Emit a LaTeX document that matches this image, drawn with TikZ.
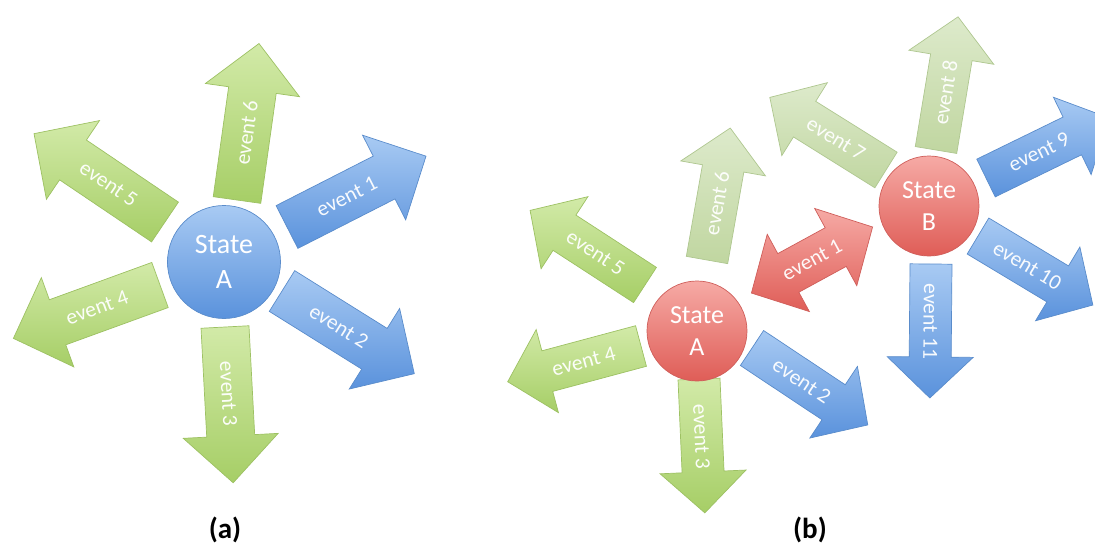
\documentclass[tikz,border=0pt]{standalone}
\usepackage{fontspec}
\setmainfont{Carlito}

% fill colours of the block arrows and state circles
\definecolor{grnL}{HTML}{D2EAA8}
\definecolor{grnD}{HTML}{A6CE66}
\definecolor{grnE}{HTML}{9DC163}
\definecolor{paleL}{HTML}{DDEACB}
\definecolor{paleD}{HTML}{C0D6A0}
\definecolor{paleE}{HTML}{AFC790}
\definecolor{bluL}{HTML}{A8CAF3}
\definecolor{bluD}{HTML}{5A92DC}
\definecolor{bluE}{HTML}{5A8CCB}
\definecolor{redL}{HTML}{F6AAA5}
\definecolor{redD}{HTML}{DF5D57}
\definecolor{redE}{HTML}{CF5E5A}

% block arrow: name, tail x, tail y, direction, length, style, label, label rotation
\newcommand{\evarrow}[8]{%
  \begin{scope}[shift={(#2,#3)}, rotate=#4]
    \path[#6] (0,-\shw/2) -- (#5-\hdlen,-\shw/2) -- (#5-\hdlen,-\hdw/2) -- (#5,0)
      -- (#5-\hdlen,\hdw/2) -- (#5-\hdlen,\shw/2) -- (0,\shw/2) -- cycle;
    \node[evtext, rotate=#8] (#1) at (0.43*#5,0) {#7};
  \end{scope}}

\begin{document}
\begin{tikzpicture}[x=1pt, y=-1pt,
  greenarrow/.style={top color=grnL, bottom color=grnD, draw=grnE, line width=0.7pt},
  palearrow/.style={top color=paleL, bottom color=paleD, draw=paleE, line width=0.7pt},
  bluearrow/.style={top color=bluL, bottom color=bluD, draw=bluE, line width=0.7pt},
  redarrow/.style={top color=redL, bottom color=redD, draw=redE, line width=0.7pt},
  evtext/.style={text=white, text opacity=0.95, inner sep=0pt, font=\fontsize{21.5}{24}\selectfont},
  statenode/.style={circle, inner sep=0pt, align=center, text=white, line width=0.7pt},
  bluestate/.style={statenode, top color=bluL, bottom color=bluD, draw=bluE},
  redstate/.style={statenode, top color=redL, bottom color=redD, draw=redE},
  caption/.style={font=\bfseries\fontsize{29}{32}\selectfont, text=black}]

\clip (0,0) rectangle (1095,550);

% ---------------- (a): one state with six outgoing events ----------------
\def\shw{48}\def\hdw{95}\def\hdlen{47}
\evarrow{a1}{287}{227}{27}{156}{bluearrow}{event 1}{27}
\evarrow{a2}{282}{291}{-32}{156}{bluearrow}{event 2}{-32}
\evarrow{a3}{225}{327}{-87}{156}{greenarrow}{event 3}{-87}
\evarrow{a4}{160}{285}{200}{156}{greenarrow}{event 4}{20}
\evarrow{a5}{165}{222}{146}{158}{greenarrow}{event 5}{-34}
\evarrow{a6}{237}{200}{82}{158}{greenarrow}{event 6}{82}
\node[bluestate, minimum size=113, font=\fontsize{28}{35}\selectfont] (sa) at (224,262) {State\\A};

% ---------------- (b): two states joined by event 1 ----------------
\def\shw{42}\def\hdw{86}\def\hdlen{41}
\evarrow{b6}{707}{260}{80}{134}{palearrow}{event 6}{80}
\evarrow{b5}{645}{285}{147}{137}{greenarrow}{event 5}{-33}
\evarrow{b4}{641}{346}{195}{138}{greenarrow}{event 4}{15}
\evarrow{b3}{699}{379}{-87.5}{134}{greenarrow}{event 3}{-87.5}
\evarrow{b2}{752}{348}{-33.6}{139}{bluearrow}{event 2}{-33.6}
\evarrow{b7}{886}{170}{148}{137}{palearrow}{event 7}{-32}
\evarrow{b8}{936}{150}{80.6}{135}{palearrow}{event 8}{80.6}
\evarrow{b9}{986}{178}{26}{137}{bluearrow}{event 9}{26}
\evarrow{b10}{978}{236}{-31}{134}{bluearrow}{event 10}{-31}
\evarrow{b11}{931}{264}{-90.5}{134}{bluearrow}{event 11}{-90.5}

% double-headed event 1 between the two states
\begin{scope}[shift={(812,260)}, rotate=28.6]
  \path[redarrow] (-69,0) -- (-27,-44) -- (-27,-22) -- (27,-22) -- (27,-44) -- (69,0)
    -- (27,44) -- (27,22) -- (-27,22) -- (-27,44) -- cycle;
  \node[evtext, rotate=28.6] (b1) at (0,0) {event 1};
\end{scope}

\node[redstate, minimum size=100, font=\fontsize{26}{32}\selectfont] (sA) at (697,331) {State\\A};
\node[redstate, minimum size=100, font=\fontsize{26}{32}\selectfont] (sB) at (929,206) {State\\B};

% captions
\node[caption] (capa) at (225,530) {(a)};
\node[caption] (capb) at (810,530) {(b)};
\end{tikzpicture}
\end{document}
